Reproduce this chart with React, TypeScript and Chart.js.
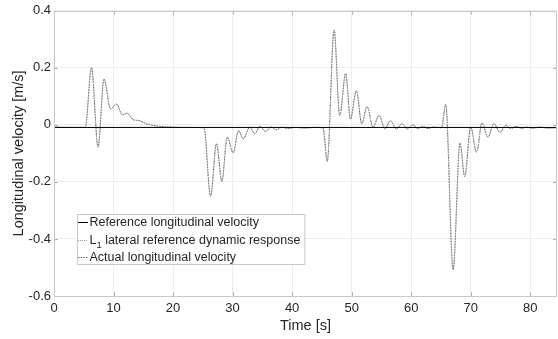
import React, { useEffect, useRef } from 'react';
import { Chart, registerables } from 'chart.js';

Chart.register(...registerables);

// ---------- data ----------
const seriesLabels = [
  'Reference longitudinal velocity',
  'L_{1} lateral reference dynamic response',
  'Actual longitudinal velocity',
];

const refTime = [0, 84.5];
const refVelocity = [-0.009, -0.009];

const responseTime = [
  0, 3, 5.0, 5.3, 6.3, 7.4, 8.4, 9.5, 10.5, 11.5, 12.3, 13.3, 14.3, 15.5, 17.0, 19, 22, 25.2,
  26.3, 27.3, 28.2, 29.1, 30.1, 31.0, 31.8, 32.9, 33.7, 34.6, 35.5, 36.5, 37.4, 38.3, 39.2, 40.5, 42, 44, 45.2,
  45.9, 47.05, 48.0, 49.0, 49.8, 50.8, 51.7, 52.6, 53.6, 54.6, 55.6, 56.5, 57.5, 58.5, 59.3, 60.3, 61.1, 62.0, 62.8, 63.7, 65.1,
  65.8, 67.05, 68.2, 69.0, 70.0, 71.0, 71.9, 72.9, 73.9, 74.9, 75.9, 76.7, 77.7, 78.5, 79.4, 80.5, 81.6, 83, 84.5,
];
const responseVelocity = [
  -0.008, -0.009, -0.009, -0.005, 0.201, -0.078, 0.161, 0.056, 0.073, 0.035, 0.041, 0.018, 0.015, 0.004, -0.003, -0.007, -0.009, -0.01,
  -0.251, -0.066, -0.198, -0.043, -0.098, -0.02, -0.049, -0.008, -0.031, -0.005, -0.023, -0.008, -0.017, -0.008, -0.013, -0.009, -0.011, -0.009, -0.011,
  -0.128, 0.333, 0.033, 0.18, 0.021, 0.12, 0.004, 0.064, -0.008, 0.033, -0.014, 0.015, -0.014, 0.004, -0.014, 0.0, -0.013, -0.005, -0.013, -0.008, -0.01,
  0.072, -0.508, -0.064, -0.181, -0.008, -0.096, 0.007, -0.043, 0.004, -0.026, -0.002, -0.013, -0.005, -0.012, -0.008, -0.012, -0.008, -0.011, -0.01,
];

const xTickValues = [0, 10, 20, 30, 40, 50, 60, 70, 80];
const xTickLabels = ['0', '10', '20', '30', '40', '50', '60', '70', '80'];
const yTickValues = [-0.6, -0.4, -0.2, 0, 0.2, 0.4];
const yTickLabels = ['-0.6', '-0.4', '-0.2', '0', '0.2', '0.4'];

const X_MIN = 0;
const X_MAX = 84.5;
const Y_MIN = -0.6;
const Y_MAX = 0.4;

// ---------- style ----------
const FONT = "'Liberation Sans', Arial, Helvetica, sans-serif";
const TEXT = '#262626';
const GRID = '#ededed';
const BOX = '#c8c8c8';
const TICKMARK = '#b4b4b4';

const toPoints = (xs: number[], ys: number[]) => xs.map((x, i) => ({ x, y: ys[i] }));

const boxPlugin = {
  id: 'boxAndTicks',
  afterDraw(chart: any) {
    const { ctx, chartArea: a, scales } = chart;
    ctx.save();
    ctx.strokeStyle = TICKMARK;
    ctx.lineWidth = 1;
    const L = 4;
    ctx.beginPath();
    for (const v of xTickValues) {
      const px = Math.round(scales.x.getPixelForValue(v)) + 0.5;
      ctx.moveTo(px, a.bottom);
      ctx.lineTo(px, a.bottom - L);
      ctx.moveTo(px, a.top);
      ctx.lineTo(px, a.top + L);
    }
    for (const v of yTickValues) {
      const py = Math.round(scales.y.getPixelForValue(v)) + 0.5;
      ctx.moveTo(a.left, py);
      ctx.lineTo(a.left + L, py);
      ctx.moveTo(a.right, py);
      ctx.lineTo(a.right - L, py);
    }
    ctx.stroke();
    ctx.strokeStyle = BOX;
    ctx.strokeRect(Math.round(a.left) + 0.5, Math.round(a.top) + 0.5, Math.round(a.right - a.left) - 1, Math.round(a.bottom - a.top));
    ctx.restore();
  },
};

const legendPlugin = {
  id: 'innerLegend',
  afterDraw(chart: any) {
    const { ctx } = chart;
    const left = 77;
    const top = 214;
    const rowH = 17.5;
    const firstRow = 222;
    const fontSize = 12.5;
    ctx.save();
    ctx.font = `${fontSize}px ${FONT}`;
    let maxW = 0;
    const parsed = chart.data.datasets.map((ds: any) => {
      const m = /^(.*?)_\{(.*?)\}(.*)$/.exec(ds.label);
      if (m) {
        ctx.font = `${fontSize}px ${FONT}`;
        const w1 = ctx.measureText(m[1]).width;
        const w3 = ctx.measureText(m[3]).width;
        ctx.font = `${fontSize * 0.75}px ${FONT}`;
        const w2 = ctx.measureText(m[2]).width;
        maxW = Math.max(maxW, w1 + w2 + w3);
        return { pre: m[1], sub: m[2], post: m[3], w1, w2 };
      }
      ctx.font = `${fontSize}px ${FONT}`;
      maxW = Math.max(maxW, ctx.measureText(ds.label).width);
      return { pre: ds.label, sub: '', post: '', w1: 0, w2: 0 };
    });
    const textX = left + 12.5;
    const width = textX - left + maxW + 4;
    const height = 50;
    ctx.fillStyle = '#ffffff';
    ctx.fillRect(left, top, width, height);
    ctx.strokeStyle = BOX;
    ctx.lineWidth = 1;
    ctx.strokeRect(left + 0.5, top + 0.5, width, height);

    chart.data.datasets.forEach((ds: any, i: number) => {
      const y = Math.round(firstRow + i * rowH) + 0.5;
      ctx.save();
      ctx.strokeStyle = ds.borderColor;
      ctx.lineWidth = ds.borderWidth;
      ctx.setLineDash(ds.borderDash || []);
      ctx.beginPath();
      ctx.moveTo(left + 1, y);
      ctx.lineTo(left + 11, y);
      ctx.stroke();
      ctx.restore();
      const p = parsed[i];
      ctx.fillStyle = TEXT;
      ctx.textBaseline = 'middle';
      ctx.textAlign = 'left';
      ctx.font = `${fontSize}px ${FONT}`;
      if (p.sub) {
        ctx.fillText(p.pre, textX, y);
        ctx.font = `${fontSize * 0.75}px ${FONT}`;
        ctx.fillText(p.sub, textX + p.w1, y + 5);
        ctx.font = `${fontSize}px ${FONT}`;
        ctx.fillText(p.post, textX + p.w1 + p.w2, y);
      } else {
        ctx.fillText(p.pre, textX, y);
      }
    });
    ctx.restore();
  },
};

export default function App() {
  const canvasRef = useRef<HTMLCanvasElement | null>(null);

  useEffect(() => {
    const canvas = canvasRef.current;
    if (!canvas) return;
    const response = toPoints(responseTime, responseVelocity);
    const chart = new Chart(canvas, {
      type: 'line',
      data: {
        datasets: [
          {
            label: seriesLabels[0],
            data: toPoints(refTime, refVelocity),
            borderColor: '#000000',
            borderWidth: 1,
            borderDash: [],
            pointRadius: 0,
            tension: 0,
          },
          {
            label: seriesLabels[1],
            data: response,
            borderColor: '#9a9a9a',
            borderWidth: 1,
            borderDash: [1, 1],
            pointRadius: 0,
            cubicInterpolationMode: 'monotone',
          },
          {
            label: seriesLabels[2],
            data: response,
            borderColor: '#3a3a3a',
            borderWidth: 0.8,
            borderDash: [1.5, 1.2],
            pointRadius: 0,
            cubicInterpolationMode: 'monotone',
          },
        ],
      } as any,
      options: {
        responsive: false,
        animation: false,
        layout: { padding: { top: 10, right: 1, left: 0, bottom: 0 } },
        plugins: { legend: { display: false }, tooltip: { enabled: false } },
        scales: {
          x: {
            type: 'linear',
            min: X_MIN,
            max: X_MAX,
            afterBuildTicks: (s: any) => {
              s.ticks = xTickValues.map((value) => ({ value }));
            },
            afterFit: (s: any) => {
              s.height = 43;
            },
            ticks: {
              padding: 5,
              color: TEXT,
              font: { family: FONT, size: 13 },
              maxRotation: 0,
              callback: (_v: any, i: number) => xTickLabels[i],
            },
            grid: { color: GRID, drawTicks: false },
            border: { display: false },
            title: {
              display: true,
              text: 'Time [s]',
              color: TEXT,
              font: { family: FONT, size: 14.5 },
              padding: { top: 0, bottom: 4 },
            },
          },
          y: {
            type: 'linear',
            min: Y_MIN,
            max: Y_MAX,
            afterBuildTicks: (s: any) => {
              s.ticks = yTickValues.map((value) => ({ value }));
            },
            afterFit: (s: any) => {
              s.width = 54;
            },
            ticks: {
              padding: 3,
              color: TEXT,
              font: { family: FONT, size: 13 },
              callback: (_v: any, i: number) => yTickLabels[i],
            },
            grid: { color: GRID, drawTicks: false },
            border: { display: false },
            title: {
              display: true,
              text: 'Longitudinal velocity [m/s]',
              color: TEXT,
              font: { family: FONT, size: 14.5 },
              padding: { top: 10, bottom: 0 },
            },
          },
        },
      } as any,
      plugins: [boxPlugin, legendPlugin],
    });
    return () => chart.destroy();
  }, []);

  return (
    <div style={{ position: 'absolute', left: 0, top: 0, width: 558, height: 339, background: '#ffffff' }}>
      <canvas ref={canvasRef} width={558} height={339} style={{ display: 'block' }} />
    </div>
  );
}
